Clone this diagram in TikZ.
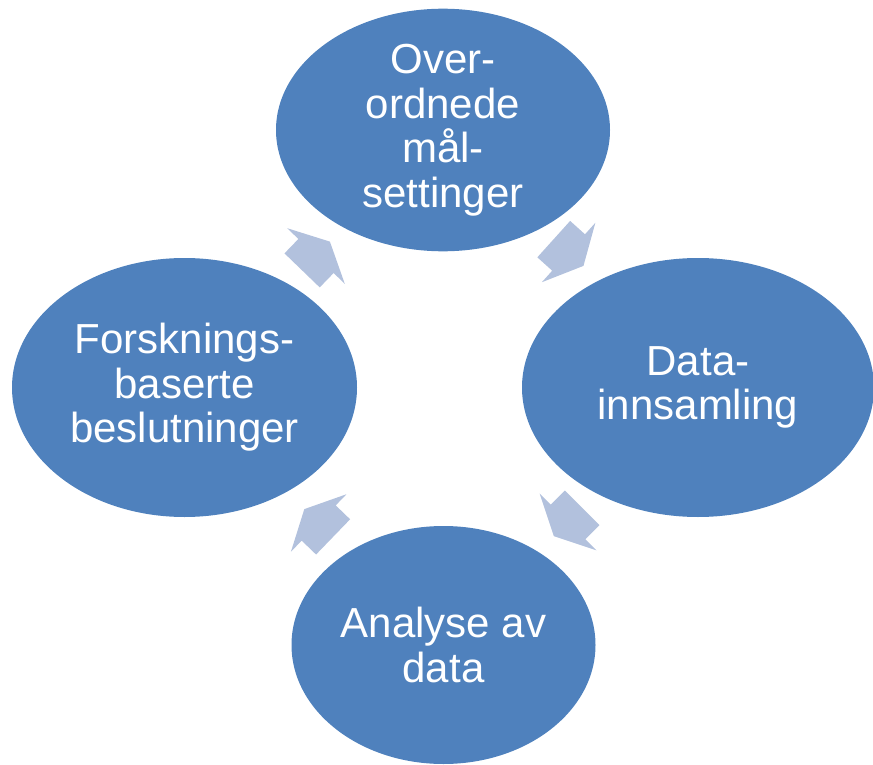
\documentclass[tikz,border=0pt]{standalone}
\usepackage{fontspec}
\setmainfont{Liberation Sans}
\usetikzlibrary{shapes.geometric}
\definecolor{ellblue}{HTML}{4F81BD}
\definecolor{arrblue}{HTML}{B2C1DD}
\tikzset{
  stage/.style={ellipse, fill=ellblue, text=white, inner sep=0pt, align=center,
    font=\fontsize{42}{44.5}\selectfont},
  cyclearrow/.style={fill=arrblue}
}
\begin{document}
\begin{tikzpicture}[x=1pt,y=-1pt]
\useasboundingbox (0,0) rectangle (873,765);
\clip (0,0) rectangle (873,765);
\node[stage, minimum width=334pt, minimum height=240pt] (top) at (443,130) {Over-\\ordnede\\mål-\\settinger};
\node[stage, minimum width=352pt, minimum height=259pt] (right) at (698,387.5) {Data-\\innsamling};
\node[stage, minimum width=304pt, minimum height=238pt] (bottom) at (443.5,645) {Analyse av\\data};
\node[stage, minimum width=345pt, minimum height=259pt] (left) at (184.5,387.5) {Forsknings-\\baserte\\beslutninger};
\coordinate (a1) at (316,256);
\coordinate (a2) at (568.6,252.5);
\coordinate (a3) at (568,522);
\coordinate (a4) at (318.7,523);
\foreach \c/\r in {a1/46, a2/-42, a3/-135, a4/136} {
  \fill[cyclearrow, shift={(\c)}, rotate=\r]
    (-20,-24.5) -- (0,-24.5) -- (0,-40) -- (20,0) -- (0,40) -- (0,24.5) -- (-20,24.5) -- cycle;
}
\end{tikzpicture}
\end{document}
